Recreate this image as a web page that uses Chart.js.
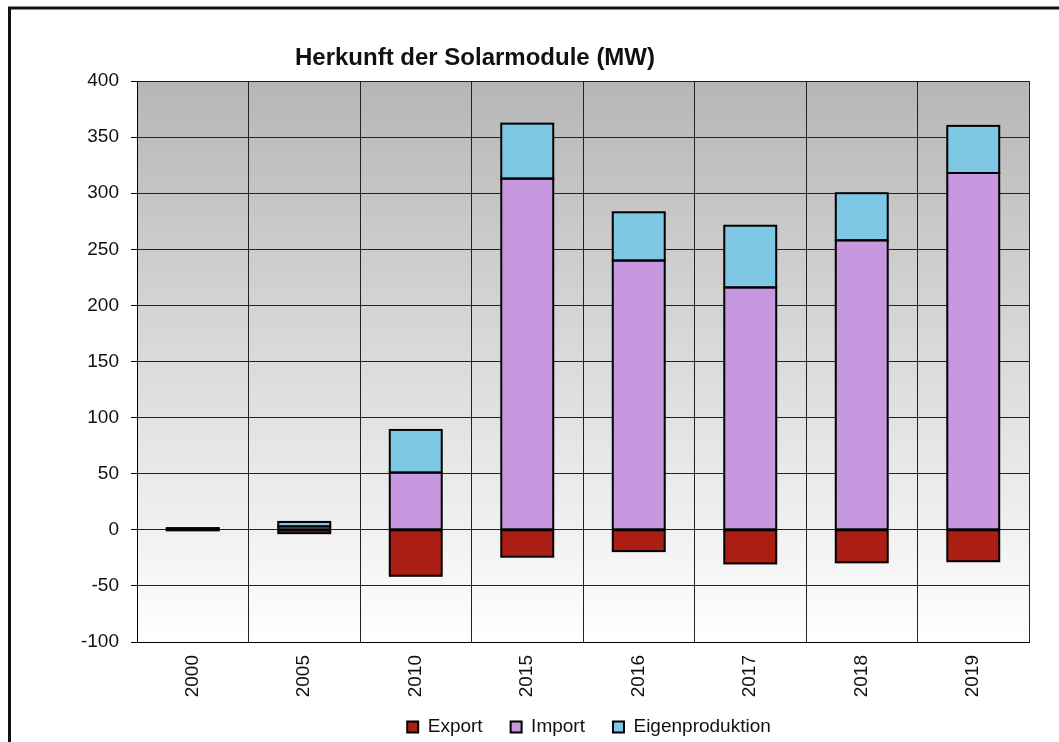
<!DOCTYPE html>
<html>
<head>
<meta charset="utf-8">
<script src="https://cdn.jsdelivr.net/npm/chart.js@4"></script>
<style>
  html, body { margin: 0; padding: 0; background: #fff; }
  #wrap { width: 1059px; height: 742px; position: relative; }
</style>
</head>
<body>
<div id="wrap"><canvas id="c" width="1059" height="742"></canvas></div>
<script>
const categories = ['2000', '2005', '2010', '2015', '2016', '2017', '2018', '2019'];
const exportValues = [-0.5, -3, -41, -24, -19, -30, -29, -28];
const importValues = [1, 3, 51, 313, 240, 216, 258, 318];
const eigenValues = [0.5, 4, 38, 49, 43, 55, 42, 42];
const chartTitle = 'Herkunft der Solarmodule (MW)';
const seriesNames = ['Export', 'Import', 'Eigenproduktion'];

const FONT = '"Liberation Sans", Arial, sans-serif';

const bgPlugin = {
  id: 'bg',
  afterInit(chart) {
    const lg = chart.legend;
    if (lg) {
      const origFit = lg.fit;
      lg.fit = function () { origFit.call(this); this.height = 30; };
    }
  },
  afterLayout(chart) {
    const lg = chart.legend;
    if (lg) {
      lg.top = 689.5;
      lg.bottom = 742;
      lg.left += 6;
      lg.right += 6;
    }
  },
  beforeDraw(chart) {
    const {ctx, chartArea: a} = chart;
    const g = ctx.createLinearGradient(0, a.top, 0, a.bottom);
    g.addColorStop(0, '#b6b6b6');
    g.addColorStop(1, '#ffffff');
    ctx.save();
    ctx.fillStyle = g;
    ctx.fillRect(a.left, a.top, a.right - a.left, a.bottom - a.top);
    ctx.restore();
  },
  afterDatasetsDraw(chart) {
    const ctx = chart.ctx;
    ctx.save();
    ctx.strokeStyle = '#000';
    ctx.lineWidth = 2;
    chart.data.datasets.forEach((ds, i) => {
      const meta = chart.getDatasetMeta(i);
      meta.data.forEach(el => {
        const p = el.getProps(['x', 'y', 'base', 'width'], true);
        const left = p.x - p.width / 2;
        const top = Math.min(p.y, p.base);
        const h = Math.abs(p.base - p.y);
        ctx.strokeRect(left, top, p.width, h);
      });
    });
    ctx.restore();
  },
  afterDraw(chart) {
    const ctx = chart.ctx;
    ctx.save();
    ctx.strokeStyle = '#111';
    ctx.lineWidth = 3;
    ctx.beginPath();
    ctx.moveTo(9.5, 760);
    ctx.lineTo(9.5, 8);
    ctx.lineTo(1070, 8);
    ctx.stroke();
    ctx.fillStyle = '#111';
    ctx.font = 'bold 24px ' + FONT;
    ctx.textAlign = 'center';
    ctx.textBaseline = 'middle';
    ctx.fillText(chartTitle, 475, 58);
    ctx.restore();
  }
};

new Chart(document.getElementById('c'), {
  type: 'bar',
  data: {
    labels: categories,
    datasets: [
      { label: seriesNames[0], data: exportValues, backgroundColor: '#aa1e14', borderColor: '#000', borderWidth: 0 },
      { label: seriesNames[1], data: importValues, backgroundColor: '#c797df', borderColor: '#000', borderWidth: 0 },
      { label: seriesNames[2], data: eigenValues, backgroundColor: '#7ec8e6', borderColor: '#000', borderWidth: 0 }
    ]
  },
  plugins: [bgPlugin],
  options: {
    responsive: false,
    animation: false,
    devicePixelRatio: 1,
    layout: { padding: { top: 81, right: 30, left: 0, bottom: 12 } },
    datasets: { bar: { categoryPercentage: 1, barPercentage: 0.466 } },
    plugins: {
      title: { display: false },
      tooltip: { enabled: false },
      legend: {
        position: 'bottom',
        fullSize: false,
        labels: {
          color: '#111',
          font: { family: FONT, size: 19 },
          boxWidth: 11,
          boxHeight: 11,
          padding: 28,
          generateLabels(chart) {
            return chart.data.datasets.map((ds, i) => ({
              text: ds.label,
              fillStyle: ds.backgroundColor,
              strokeStyle: '#000',
              lineWidth: 2,
              fontColor: '#111',
              hidden: false,
              datasetIndex: i
            }));
          }
        }
      }
    },
    scales: {
      x: {
        stacked: true,
        afterFit(s) { s.height = 58; },
        grid: { color: '#222', lineWidth: 1, drawTicks: false, offset: true },
        border: { color: '#000', width: 1 },
        ticks: { color: '#111', font: { family: FONT, size: 19 }, minRotation: 90, maxRotation: 90, padding: 13 }
      },
      y: {
        stacked: true,
        min: -100,
        max: 400,
        afterFit(s) { s.width = 137; },
        grid: { color: '#222', lineWidth: 1, tickLength: 6, tickColor: '#000' },
        border: { color: '#000', width: 1 },
        ticks: { stepSize: 50, color: '#111', font: { family: FONT, size: 19 }, padding: 12 }
      }
    }
  }
});
</script>
</body>
</html>
